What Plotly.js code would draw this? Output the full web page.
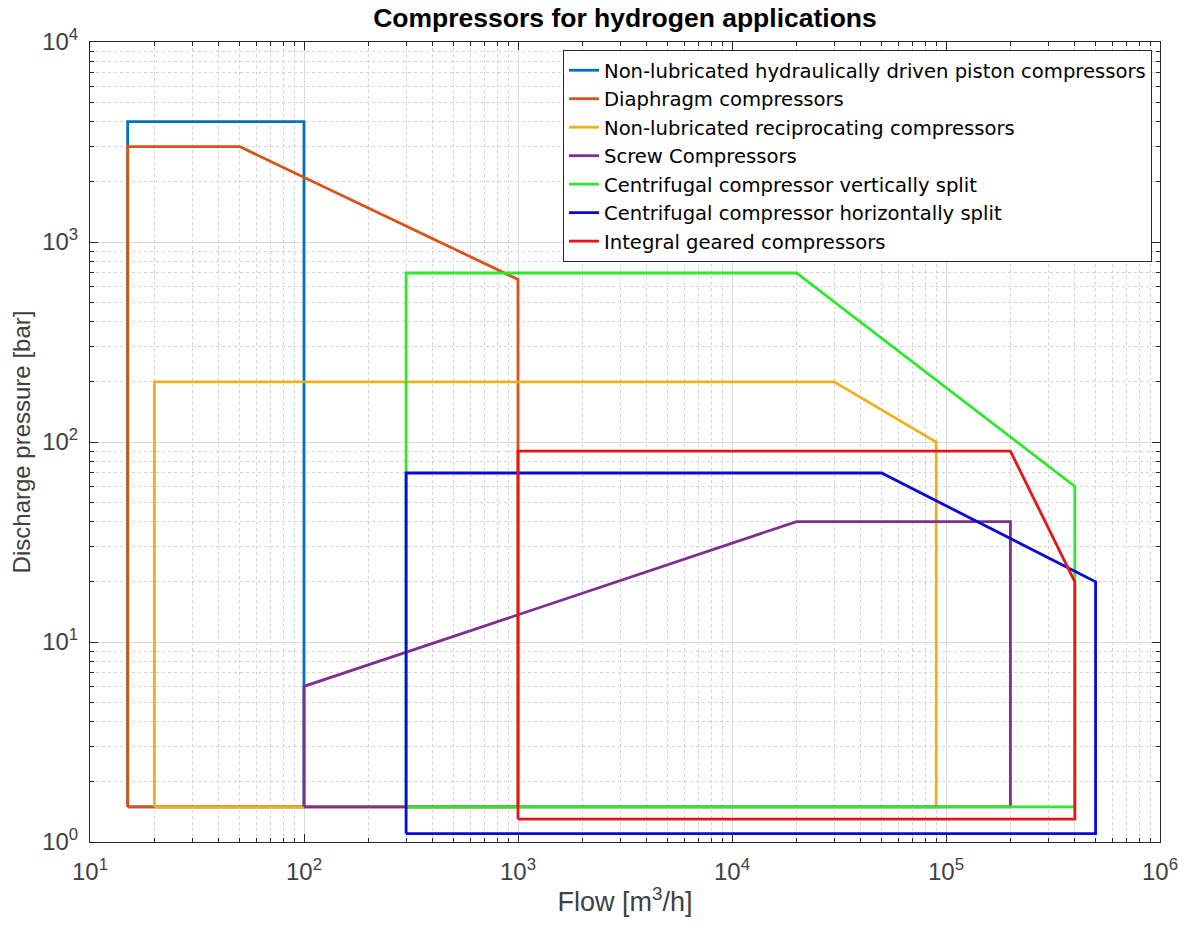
<!DOCTYPE html>
<html>
<head>
<meta charset="utf-8">
<script src="https://cdn.plot.ly/plotly-3.0.1.min.js"></script>
<style>
  html, body { margin: 0; padding: 0; background: #ffffff; }
  #chart { width: 1191px; height: 932px; }
</style>
</head>
<body>
<div id="chart"></div>
<script>
// Operating envelopes of compressor types: flow [m3/h] vs discharge pressure [bar]
const seriesNames = [
  'Non-lubricated hydraulically driven piston compressors',
  'Diaphragm compressors',
  'Non-lubricated reciprocating compressors',
  'Screw Compressors',
  'Centrifugal compressor vertically split',
  'Centrifugal compressor horizontally split',
  'Integral geared compressors'
];
const seriesColors = ['#0072BD', '#D95319', '#EDB120', '#7E2F8E', '#2EE82E', '#0A0AD8', '#E8141A'];

// Envelope outlines (closed polygons)
const pistonFlow       = [15, 100, 100, 15, 15];
const pistonPressure   = [1.5, 1.5, 4000, 4000, 1.5];

const diaphragmFlow     = [15, 15, 50, 1000, 1000, 15];
const diaphragmPressure = [1.5, 3000, 3000, 650, 1.5, 1.5];

const reciprocFlow     = [20, 20, 30000, 90000, 90000, 20];
const reciprocPressure = [1.5, 200, 200, 100, 1.5, 1.5];

const screwFlow     = [100, 100, 20000, 200000, 200000, 100];
const screwPressure = [1.5, 6, 40, 40, 1.5, 1.5];

const vertSplitFlow     = [300, 300, 20000, 400000, 400000, 300];
const vertSplitPressure = [1.5, 700, 700, 60, 1.5, 1.5];

const horizSplitFlow     = [300, 300, 50000, 500000, 500000, 300];
const horizSplitPressure = [1.1, 70, 70, 20, 1.1, 1.1];

const gearedFlow     = [1000, 1000, 200000, 400000, 400000, 1000];
const gearedPressure = [1.3, 90, 90, 20, 1.3, 1.3];

const flows = [pistonFlow, diaphragmFlow, reciprocFlow, screwFlow, vertSplitFlow, horizSplitFlow, gearedFlow];
const pressures = [pistonPressure, diaphragmPressure, reciprocPressure, screwPressure, vertSplitPressure, horizSplitPressure, gearedPressure];

// Decade tick labels
const xTickVals = [10, 100, 1000, 10000, 100000, 1000000];
const xTickText = ['10<sup>1</sup>', '10<sup>2</sup>', '10<sup>3</sup>', '10<sup>4</sup>', '10<sup>5</sup>', '10<sup>6</sup>'];
const yTickVals = [1, 10, 100, 1000, 10000];
const yTickText = ['10<sup>0</sup>', '10<sup>1</sup>', '10<sup>2</sup>', '10<sup>3</sup>', '10<sup>4</sup>'];

const FONT = 'Liberation Sans, Arial, Helvetica, sans-serif';
const WIDE_FONT = 'DejaVu Sans, Verdana, sans-serif';
const NARROW_FONT = 'Liberation Sans Narrow, Arial Narrow, Liberation Sans, sans-serif';

const traces = seriesNames.map((name, i) => ({
  type: 'scatter',
  mode: 'lines',
  name: name,
  x: flows[i],
  y: pressures[i],
  line: { color: seriesColors[i], width: 2.8 },
  hoverinfo: 'x+y+name'
}));

const axisCommon = {
  type: 'log',
  showline: true,
  linecolor: '#262626',
  linewidth: 1,
  mirror: 'ticks',
  ticks: 'inside',
  ticklen: 8,
  tickcolor: '#262626',
  showgrid: true,
  gridcolor: '#dcdcdc',
  gridwidth: 1,
  zeroline: false,
  tickfont: { family: FONT, size: 24, color: '#404040' },
  minor: {
    dtick: 'D1',
    ticks: 'inside',
    ticklen: 4,
    tickcolor: '#262626',
    showgrid: true,
    gridcolor: '#d4d4d4',
    griddash: 'dot',
    gridwidth: 1
  }
};

const layout = {
  width: 1191,
  height: 932,
  paper_bgcolor: '#ffffff',
  plot_bgcolor: '#ffffff',
  margin: { l: 90, r: 31, t: 42, b: 90 },
  font: { family: FONT, color: '#262626' },
  title: {
    text: '<b>Compressors for hydrogen applications</b>',
    font: { family: FONT, size: 26.5, color: '#000000' },
    x: 0.5, xref: 'paper', xanchor: 'center',
    y: 0.981, yref: 'container', yanchor: 'middle'
  },
  xaxis: Object.assign({}, axisCommon, {
    range: [1, 6],
    tickvals: xTickVals,
    ticktext: xTickText,
    ticklabelstandoff: 8,
    title: { text: 'Flow [m<sup>3</sup>/h]', font: { family: FONT, size: 27, color: '#404040' }, standoff: 8 }
  }),
  yaxis: Object.assign({}, axisCommon, {
    range: [0, 4],
    tickvals: yTickVals,
    ticktext: yTickText,
    ticklabelstandoff: 6,
    title: { text: 'Discharge pressure [bar]', font: { family: NARROW_FONT, size: 24, color: '#404040' }, standoff: 4 }
  }),
  legend: {
    x: 0.9925, xanchor: 'right',
    y: 0.99, yanchor: 'top',
    bgcolor: '#ffffff',
    bordercolor: '#262626',
    borderwidth: 1,
    font: { family: WIDE_FONT, size: 19.6, color: '#000000' }
  },
  showlegend: true
};

Plotly.newPlot('chart', traces, layout, { displayModeBar: false, staticPlot: true });
</script>
</body>
</html>
